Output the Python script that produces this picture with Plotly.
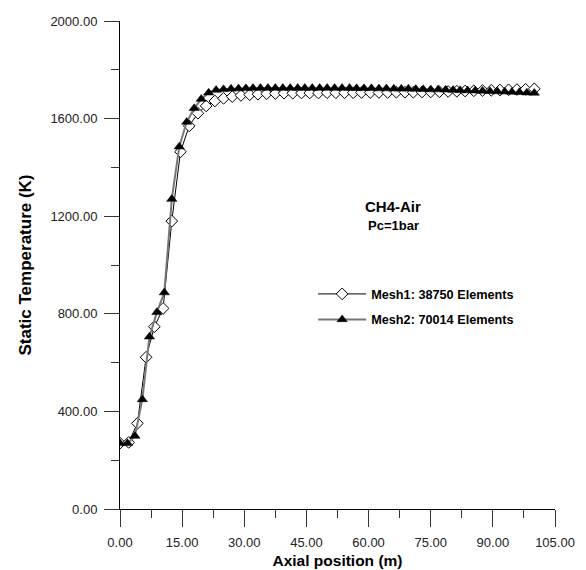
import plotly.graph_objects as go

# Mesh1: 38750 elements (open diamonds)
mesh1_x = [0.0, 2.1, 4.2, 6.3, 8.3, 10.4, 12.5, 14.6, 16.7, 18.8, 20.8, 22.9,
           25.0, 27.1, 29.2, 31.3, 33.3, 35.4, 37.5, 39.6, 41.7, 43.8, 45.8, 47.9,
           50.0, 52.1, 54.2, 56.3, 58.3, 60.4, 62.5, 64.6, 66.7, 68.8, 70.8, 72.9,
           75.0, 77.1, 79.2, 81.3, 83.3, 85.4, 87.5, 89.6, 91.7, 93.8, 95.8, 97.9, 100.0]
mesh1_t = [270, 273, 351, 622, 747, 822, 1180, 1464, 1570, 1622, 1652, 1672,
           1683, 1690, 1695, 1698, 1700, 1702, 1703, 1704, 1704, 1705, 1705, 1705,
           1706, 1706, 1706, 1706, 1707, 1707, 1707, 1707, 1708, 1708, 1708, 1709,
           1709, 1710, 1711, 1712, 1713, 1714, 1715, 1716, 1717, 1718, 1719, 1720, 1722]

# Mesh2: 70014 elements (filled triangles)
mesh2_x = [0.0, 1.8, 3.6, 5.4, 7.1, 8.9, 10.7, 12.5, 14.3, 16.1, 17.9, 19.6,
           21.4, 23.2, 25.0, 26.8, 28.6, 30.4, 32.1, 33.9, 35.7, 37.5, 39.3, 41.1,
           42.9, 44.6, 46.4, 48.2, 50.0, 51.8, 53.6, 55.4, 57.1, 58.9, 60.7, 62.5,
           64.3, 66.1, 67.9, 69.6, 71.4, 73.2, 75.0, 76.8, 78.6, 80.4, 82.1, 83.9,
           85.7, 87.5, 89.3, 91.1, 92.9, 94.6, 96.4, 98.2, 100.0]
mesh2_t = [269, 269, 299, 449, 706, 806, 887, 1270, 1485, 1586, 1642, 1680,
           1706, 1717, 1720, 1722, 1723, 1724, 1725, 1725, 1725, 1725, 1725, 1725,
           1725, 1725, 1725, 1725, 1725, 1725, 1725, 1725, 1724, 1724, 1724, 1723,
           1723, 1722, 1722, 1722, 1721, 1720, 1719, 1719, 1718, 1717, 1716, 1715,
           1714, 1713, 1712, 1711, 1710, 1709, 1708, 1706, 1705]

series_names = ["Mesh1: 38750 Elements", "Mesh2: 70014 Elements"]
x_ticks = [0, 15, 30, 45, 60, 75, 90, 105]
y_ticks = [0, 400, 800, 1200, 1600, 2000]

FONT = "Liberation Sans, Arial, sans-serif"

fig = go.Figure()
fig.add_trace(go.Scatter(
    x=mesh1_x, y=mesh1_t, mode="lines+markers", name="<b>" + series_names[0] + "</b>",
    legendrank=1, legendgroup="a",
    line=dict(color="black", width=1),
    marker=dict(symbol="diamond", size=9, color="white",
                line=dict(color="black", width=1)),
))
fig.add_trace(go.Scatter(
    x=mesh2_x, y=mesh2_t, mode="lines+markers", name="<b>" + series_names[1] + "</b>",
    legendrank=2, legendgroup="b",
    line=dict(color="#777777", width=2),
    marker=dict(symbol="triangle-up", size=9, color="black",
                line=dict(color="black", width=0.5)),
))

axis_common = dict(
    showgrid=False, zeroline=False, showline=True, linecolor="black", linewidth=1,
    ticks="outside", tickcolor="#333333", tickwidth=1,
    tickfont=dict(family=FONT, size=13, color="#222222"),
    tickformat=".2f", automargin=False,
)

fig.update_xaxes(
    range=[0, 105], tickvals=x_ticks, ticklen=17,
    minor=dict(dtick=7.5, tick0=0, ticklen=8, ticks="outside", tickcolor="#333333"),
    title=dict(text="<b>Axial position (m)</b>", font=dict(family=FONT, size=15.5, color="black"),
               standoff=6),
    ticklabelstandoff=4,
    **axis_common,
)
fig.update_yaxes(
    range=[0, 2000], tickvals=y_ticks, ticklen=15,
    minor=dict(dtick=200, tick0=0, ticklen=8, ticks="outside", tickcolor="#333333"),
    title=dict(text="<b>Static Temperature (K)</b>", font=dict(family=FONT, size=17, color="black"),
               standoff=14),
    ticklabelstandoff=4,
    **axis_common,
)

fig.add_annotation(x=0.628, y=0.619, xref="paper", yref="paper", text="<b>CH4-Air</b>",
                   showarrow=False, font=dict(family=FONT, size=15, color="black"))
fig.add_annotation(x=0.628, y=0.58, xref="paper", yref="paper", text="<b>Pc=1bar</b>",
                   showarrow=False, font=dict(family=FONT, size=13, color="black"))

# page body adds an 8px offset, so the figure is sized to the visible area
fig.update_layout(
    width=578, height=562,
    margin=dict(l=112, r=31, t=13, b=61),
    paper_bgcolor="white", plot_bgcolor="white",
    showlegend=True,
    legend=dict(x=0.444, y=0.471, xanchor="left", yanchor="top",
                bgcolor="rgba(0,0,0,0)", borderwidth=0,
                font=dict(family=FONT, size=12.7, color="black"),
                traceorder="grouped", tracegroupgap=6, itemwidth=48),
)

fig.write_html("out.html")
